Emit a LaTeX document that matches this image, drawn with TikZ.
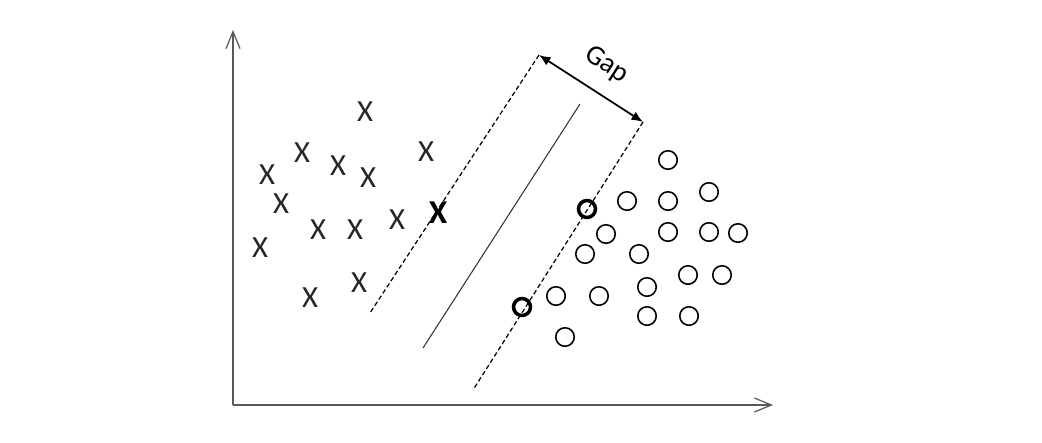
\documentclass[tikz,border=0pt]{standalone}
\usepackage{fontspec}
\setmainfont{Carlito}
\usepackage{xcolor}
\usepackage{tikz}
\usetikzlibrary{arrows.meta}

\begin{document}
\begin{tikzpicture}[x=0.02cm,y=-0.02cm]
    \tikzstyle{axis}=[draw=black!65,line width=0.7pt,-{Straight Barb[length=0.34cm,width=0.28cm]}]
    \tikzstyle{cross}=[inner sep=0pt,text=black!85,font=\fontsize{17.5}{18}\selectfont]
    \tikzstyle{support cross}=[cross,text=black,font=\fontsize{19}{20}\selectfont\bfseries]
    \tikzstyle{dot}=[circle,draw=black,line width=0.9pt,minimum size=0.37cm,inner sep=0pt]
    \tikzstyle{support dot}=[dot,line width=2pt,minimum size=0.34cm]
    \tikzstyle{margin}=[draw=black,line width=0.7pt,dash pattern=on 2.6pt off 1.6pt]
    \tikzstyle{gap}=[draw=black,line width=1pt,{Latex[length=0.23cm,width=0.19cm]}-{Latex[length=0.23cm,width=0.19cm]}]

    \useasboundingbox (0,0) rectangle (1042,443);

    % Draw the axes
    \coordinate (O) at (233,405);
    \coordinate (Y) at (233,30);
    \coordinate (X) at (773,405);
    \draw[axis] (O) -- (Y);
    \draw[axis] (O) -- (X);

    % Draw the crosses
    \foreach \name / \x / \y in {1/365/112,2/302/153,3/338/166,4/368/178,5/426/152,
        6/267/175,7/281/204,8/318/230,9/355/230,10/397/220,11/260/248,12/310/298,13/359/283}
        \node[cross] (C-\name) at (\x,\y) {X};
    \node[support cross] (C-s) at (438,213) {X};

    % Draw the circles
    \foreach \name / \x / \y in {1/668/160,2/627/201,3/668/201,4/709/192,5/606/234,
        6/668/232,7/709/232,8/738/233,9/585/254,10/639/254,11/688/275,12/722/275,
        13/556/296,14/599/296,15/647/287,16/647/316,17/689/316,18/565/337}
        \node[dot] (D-\name) at (\x,\y) {};
    \node[support dot] (D-s1) at (587,209) {};
    \node[support dot] (D-s2) at (522,307) {};

    % Draw the margins and the separating line
    \coordinate (M1-top) at (539,55);
    \coordinate (M1-bot) at (370,313);
    \coordinate (M2-top) at (643,122);
    \coordinate (M2-bot) at (473,390);
    \coordinate (S-top) at (580,104);
    \coordinate (S-bot) at (423,348);
    \path[margin] (M1-top) -- (M1-bot);
    \path[margin] (M2-top) -- (M2-bot);
    \draw[black!80,line width=0.6pt] (S-top) -- (S-bot);

    % Annotate the gap
    \draw[gap] (M1-top) -- node[above=8pt,sloped,inner sep=1pt,font=\fontsize{16}{18}\selectfont] (gaplabel) {Gap} (M2-top);
\end{tikzpicture}
\end{document}
